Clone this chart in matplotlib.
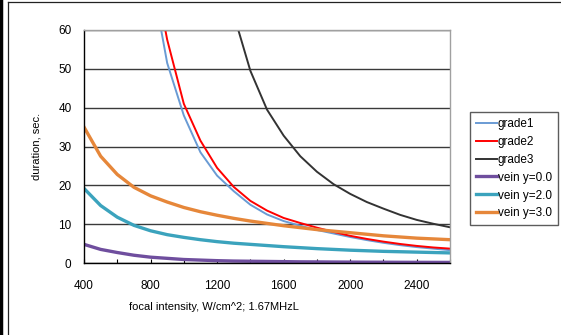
import numpy as np
import matplotlib.pyplot as plt
from matplotlib.lines import Line2D

## data (focal intensity vs duration)
x_grade = [800, 900, 1000, 1100, 1200, 1300, 1400, 1500, 1600, 1700, 1800,
           1900, 2000, 2100, 2200, 2300, 2400, 2500, 2600]
grade1 = [75, 51.5, 38.0, 28.5, 22.5, 18.5, 15.0, 12.5, 10.8, 9.6, 8.5,
          7.6, 6.7, 5.9, 5.2, 4.6, 4.1, 3.7, 3.3]
grade2 = [80, 57.5, 41.0, 31.5, 24.5, 19.6, 16.0, 13.5, 11.6, 10.3, 9.1,
          8.0, 7.0, 6.2, 5.5, 4.9, 4.4, 4.0, 3.7]

x_grade3 = [1300, 1400, 1500, 1600, 1700, 1800, 1900, 2000, 2100, 2200,
            2300, 2400, 2500, 2600]
grade3 = [64, 49.5, 39.5, 32.8, 27.5, 23.5, 20.3, 17.8, 15.7, 14.0,
          12.4, 11.1, 10.1, 9.2]

x_vein = [400, 500, 600, 700, 800, 900, 1000, 1100, 1200, 1300, 1400, 1500,
          1600, 1700, 1800, 1900, 2000, 2100, 2200, 2300, 2400, 2500, 2600]
vein0 = [4.8, 3.5, 2.7, 2.0, 1.5, 1.2, 0.9, 0.75, 0.6, 0.5, 0.45, 0.4,
         0.35, 0.3, 0.28, 0.25, 0.23, 0.21, 0.2, 0.18, 0.17, 0.16, 0.15]
vein2 = [19.2, 14.8, 11.8, 9.7, 8.3, 7.3, 6.6, 6.0, 5.5, 5.1, 4.8, 4.5,
         4.2, 3.95, 3.7, 3.5, 3.3, 3.15, 3.0, 2.9, 2.8, 2.7, 2.6]
vein3 = [35.0, 27.5, 22.8, 19.5, 17.3, 15.7, 14.3, 13.2, 12.3, 11.5, 10.8, 10.2,
         9.6, 9.1, 8.6, 8.2, 7.8, 7.4, 7.0, 6.7, 6.4, 6.2, 6.0]

labels = ["grade1", "grade2", "grade3", "vein y=0.0", "vein y=2.0", "vein y=3.0"]
colors = ["#6a9bd4", "#ff0000", "#333333", "#6f4e9e", "#3ba3bd", "#e6873a"]

plt.rcParams['font.family'] = ['Liberation Sans', 'DejaVu Sans']

W, H = 561, 335
fig = plt.figure(figsize=(W / 100, H / 100), dpi=100)

## outer frame like the original sheet border
fig.add_artist(Line2D([1 / W, 1 / W], [0, 1], color="black", lw=2.5))
fig.add_artist(Line2D([7.5 / W, 7.5 / W], [0, 1 - 2 / H], color="#222222", lw=0.9))
fig.add_artist(Line2D([7.5 / W, 1], [1 - 2 / H, 1 - 2 / H], color="#222222", lw=0.9))

ax = fig.add_axes([84 / W, 1 - 263 / H, 366 / W, 233 / H])

ax.plot(x_grade, grade1, color=colors[0], lw=1.4, label=labels[0])
ax.plot(x_grade, grade2, color=colors[1], lw=1.4, label=labels[1])
ax.plot(x_grade3, grade3, color=colors[2], lw=1.4, label=labels[2])
ax.plot(x_vein, vein0, color=colors[3], lw=2.4, label=labels[3])
ax.plot(x_vein, vein2, color=colors[4], lw=2.4, label=labels[4])
ax.plot(x_vein, vein3, color=colors[5], lw=2.4, label=labels[5])

ax.set_xlim(400, 2600)
ax.set_ylim(0, 60)

ax.set_xticks(np.arange(400, 2601, 200))
ax.set_xticklabels([str(v) if v % 400 == 0 and v < 2600 else "" for v in range(400, 2601, 200)])
ax.set_yticks(np.arange(0, 61, 10))
ax.tick_params(axis="x", direction="in", length=3, width=0.8, pad=12, labelsize=8.5)
ax.tick_params(axis="y", length=0, pad=9, labelsize=8.5)

ax.yaxis.grid(True, color="#3a3a3a", lw=1)
ax.set_axisbelow(True)
for side in ["top", "right"]:
    ax.spines[side].set_color("#a0a0a0")
    ax.spines[side].set_linewidth(1)
for side in ["left", "bottom"]:
    ax.spines[side].set_color("black")
    ax.spines[side].set_linewidth(1)

ax.set_ylabel("duration, sec.", fontsize=8, labelpad=12)
fig.text(214 / W, 1 - 307 / H, "focal intensity, W/cm^2; 1.67MHzL",
         ha="center", va="center", fontsize=8)

leg = ax.legend(loc="upper left", bbox_to_anchor=(470 / W, 1 - 112 / H),
                bbox_transform=fig.transFigure, fontsize=8.5, frameon=True,
                fancybox=False, handlelength=1.8, handletextpad=0.05,
                labelspacing=0.5, borderpad=0.5, borderaxespad=0)
leg.get_frame().set_edgecolor("#333333")
leg.get_frame().set_linewidth(1)

fig.savefig("out.png", dpi=100)
